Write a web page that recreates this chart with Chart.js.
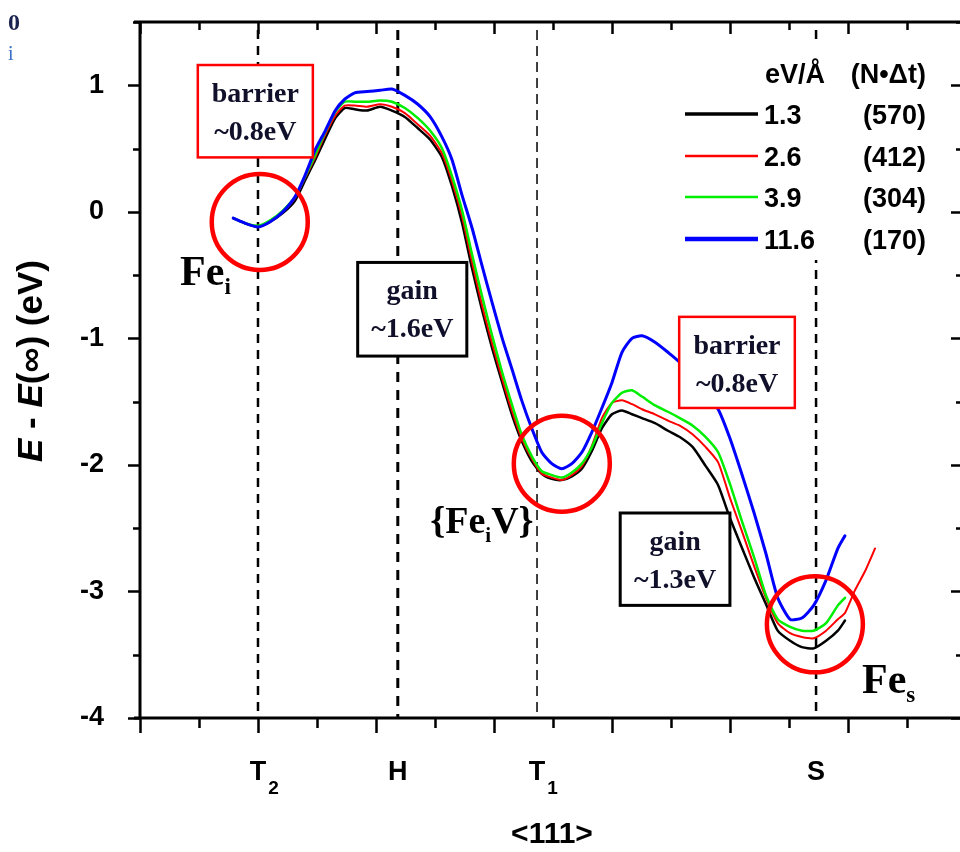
<!DOCTYPE html>
<html>
<head>
<meta charset="utf-8">
<title>Fe along &lt;111&gt;</title>
<style>
    html, body { margin: 0; padding: 0; background: #fff; }
    #wrap { width: 960px; height: 852px; }
</style>
<script src="https://cdn.jsdelivr.net/npm/chart.js@4"></script>
</head>
<body>
<div id="wrap"><canvas id="energyChart" width="960" height="852"></canvas></div>
<script>
// position along <111>, one unit per minor tick
const pathPos = [1.58, 1.78, 2.00, 2.20, 2.42, 2.63, 2.80, 2.97, 3.14, 3.31,
    3.47, 3.64, 3.85, 4.07, 4.27, 4.49, 4.71, 4.92, 5.12, 5.29,
    5.46, 5.63, 5.80, 5.97, 6.14, 6.31, 6.47, 6.64, 6.81, 6.98,
    7.15, 7.32, 7.49, 7.66, 7.83, 8.00, 8.17, 8.34, 8.51, 8.73,
    8.95, 9.15, 9.37, 9.59, 9.80, 10.00, 10.20, 10.41, 10.61, 10.81,
    11.02, 11.22, 11.42, 11.63, 11.83, 11.95, 12.12, 12.29, 12.46];

// E - E(inf) in eV for each field strength
const energy13 = [-0.05, -0.09, -0.12, -0.08, -0.01, 0.09, 0.25, 0.41, 0.58, 0.74,
    0.82, 0.81, 0.80, 0.83, 0.80, 0.75, 0.66, 0.57, 0.43, 0.20,
    -0.09, -0.45, -0.78, -1.08, -1.35, -1.61, -1.81, -1.97, -2.07, -2.11,
    -2.12, -2.09, -2.03, -1.89, -1.71, -1.60, -1.57, -1.60, -1.63, -1.67,
    -1.73, -1.78, -1.86, -2.01, -2.16, -2.42, -2.65, -2.89, -3.10, -3.31,
    -3.39, -3.44, -3.45, -3.39, -3.31, -3.23];
const energy26 = [-0.05, -0.09, -0.12, -0.08, 0.00, 0.11, 0.27, 0.43, 0.61, 0.76,
    0.84, 0.84, 0.83, 0.85, 0.83, 0.78, 0.69, 0.60, 0.46, 0.24,
    -0.04, -0.40, -0.74, -1.04, -1.32, -1.58, -1.79, -1.95, -2.07, -2.10,
    -2.12, -2.08, -2.01, -1.85, -1.63, -1.51, -1.49, -1.52, -1.56, -1.60,
    -1.65, -1.69, -1.76, -1.86, -1.98, -2.26, -2.52, -2.80, -3.05, -3.25,
    -3.33, -3.36, -3.37, -3.31, -3.22, -3.17, -2.99, -2.84, -2.66];
const energy39 = [-0.05, -0.09, -0.11, -0.07, 0.01, 0.12, 0.28, 0.45, 0.63, 0.79,
    0.87, 0.87, 0.87, 0.88, 0.87, 0.82, 0.74, 0.64, 0.50, 0.28,
    0.01, -0.34, -0.67, -0.98, -1.27, -1.53, -1.76, -1.93, -2.05, -2.08,
    -2.10, -2.06, -1.99, -1.86, -1.67, -1.51, -1.43, -1.41, -1.46, -1.53,
    -1.58, -1.63, -1.69, -1.78, -1.90, -2.15, -2.44, -2.73, -3.03, -3.22,
    -3.28, -3.31, -3.31, -3.25, -3.11, -3.05];
const energy116 = [-0.05, -0.09, -0.12, -0.08, 0.00, 0.12, 0.29, 0.49, 0.64, 0.80,
    0.89, 0.94, 0.95, 0.96, 0.97, 0.92, 0.85, 0.75, 0.59, 0.41,
    0.13, -0.13, -0.43, -0.72, -1.00, -1.25, -1.49, -1.71, -1.90, -1.99,
    -2.03, -1.99, -1.90, -1.74, -1.55, -1.35, -1.11, -1.00, -0.98, -1.03,
    -1.11, -1.19, -1.32, -1.45, -1.56, -1.79, -2.07, -2.38, -2.70, -3.05,
    -3.22, -3.21, -3.11, -2.91, -2.66, -2.56];

const fieldLabels = ['1.3', '2.6', '3.9', '11.6'];
const stepLabels = ['(570)', '(412)', '(304)', '(170)'];
const seriesColors = ['#000000', '#ff0000', '#00ee00', '#0000ff'];
const seriesWidths = [2.5, 2, 2.5, 3];

// lattice sites marked on the <111> axis
const sitePos = [2.0, 4.37, 6.73, 11.46];
const siteNames = ['T', 'H', 'T', 'S'];
const siteSubs = ['2', '', '1', ''];

const serif = '"Liberation Serif", "Times New Roman", serif';
const sans = '"Liberation Sans", Arial, sans-serif';

const seriesValues = [energy13, energy26, energy39, energy116];
const datasets = seriesValues.map((vals, i) => ({
    label: fieldLabels[i],
    data: vals.map((v, k) => ({ x: pathPos[k], y: v })),
    borderColor: seriesColors[i],
    borderWidth: seriesWidths[i],
    order: 3 - i,
    pointRadius: 0,
    fill: false
}));

// text with a lowered subscript, returns the width drawn
function subText(ctx, x, y, main, sub, size) {
    const big = 'bold ' + size + 'px ' + serif;
    const small = 'bold ' + Math.round(size * 0.55) + 'px ' + serif;
    ctx.textAlign = 'left';
    ctx.font = big;
    const w1 = ctx.measureText(main).width;
    ctx.fillText(main, x, y);
    ctx.font = small;
    ctx.fillText(sub, x + w1, y + size * 0.22);
    return w1 + ctx.measureText(sub).width;
}

const decor = {
    id: 'decor',
    beforeDatasetsDraw(chart) {
        const { ctx, chartArea: a, scales: { x } } = chart;
        // dashed site markers
        const widths = [2.5, 3, 1.5, 2.5];
        const dashes = [[9, 7], [10, 8], [10, 6], [9, 7]];
        ctx.save();
        ctx.strokeStyle = '#000';
        sitePos.forEach((p, i) => {
            const px = x.getPixelForValue(p);
            ctx.lineWidth = widths[i];
            ctx.setLineDash(dashes[i]);
            ctx.beginPath();
            ctx.moveTo(px, a.top + 8);
            ctx.lineTo(px, a.bottom);
            ctx.stroke();
        });
        ctx.restore();
    },
    afterDatasetsDraw(chart) {
        const { ctx, chartArea: a, scales: { x, y } } = chart;
        ctx.save();

        // frame and ticks
        ctx.strokeStyle = '#000';
        ctx.lineWidth = 3;
        ctx.beginPath();
        ctx.moveTo(a.left, a.top - 1);
        ctx.lineTo(a.left, a.bottom + 1);
        ctx.moveTo(a.left - 6, a.bottom);
        ctx.lineTo(a.right, a.bottom);
        ctx.moveTo(a.left - 6, a.top);
        ctx.lineTo(a.right, a.top);
        ctx.stroke();
        ctx.lineWidth = 2.5;
        ctx.beginPath();
        for (let v = 0; v <= x.max; v++) {
            const px = Math.round(x.getPixelForValue(v)) + 0.5;
            const major = v % 2 === 0;
            ctx.moveTo(px, a.bottom);
            ctx.lineTo(px, a.bottom + (major ? 15 : 10));
            ctx.moveTo(px, a.top);
            ctx.lineTo(px, a.top + (major ? 12 : 8));
        }
        for (let v = y.min; v <= y.max; v += 0.5) {
            const py = Math.round(y.getPixelForValue(v)) + 0.5;
            const major = Number.isInteger(v);
            ctx.moveTo(a.left, py);
            ctx.lineTo(a.left - (major ? 12 : 7), py);
            ctx.moveTo(a.right, py);
            ctx.lineTo(a.right - (major ? 9 : 4), py);
        }
        ctx.stroke();

        // annotation boxes
        const boxes = [
            { x0: 0.98, x1: 2.93, y0: 1.16, y1: 0.43, c: '#ff0000', lw: 2.5, t: ['barrier', '~0.8eV'] },
            { x0: 3.69, x1: 5.54, y0: -0.40, y1: -1.14, c: '#000000', lw: 3, t: ['gain', '~1.6eV'] },
            { x0: 9.14, x1: 11.10, y0: -0.83, y1: -1.55, c: '#ff0000', lw: 2.5, t: ['barrier', '~0.8eV'] },
            { x0: 8.14, x1: 10.00, y0: -2.38, y1: -3.11, c: '#000000', lw: 3, t: ['gain', '~1.3eV'] }
        ];
        boxes.forEach(b => {
            const l = x.getPixelForValue(b.x0), r = x.getPixelForValue(b.x1);
            const t = y.getPixelForValue(b.y0), btm = y.getPixelForValue(b.y1);
            ctx.fillStyle = '#fff';
            ctx.fillRect(l, t, r - l, btm - t);
            ctx.strokeStyle = b.c;
            ctx.lineWidth = b.lw;
            ctx.strokeRect(l, t, r - l, btm - t);
            ctx.fillStyle = '#10102a';
            ctx.font = 'bold 28px ' + serif;
            ctx.textAlign = 'center';
            ctx.textBaseline = 'alphabetic';
            ctx.fillText(b.t[0], (l + r) / 2, t + 37);
            ctx.fillText(b.t[1], (l + r) / 2, t + 75);
        });

        // circled minima
        ctx.strokeStyle = '#ff0000';
        ctx.lineWidth = 4.5;
        [[2.03, -0.08], [7.15, -1.99], [11.44, -3.26]].forEach(([cx, cy]) => {
            ctx.beginPath();
            ctx.arc(x.getPixelForValue(cx), y.getPixelForValue(cy), 48, 0, Math.PI * 2);
            ctx.stroke();
        });

        // state labels
        ctx.fillStyle = '#000';
        ctx.textBaseline = 'alphabetic';
        subText(ctx, x.getPixelForValue(0.68), y.getPixelForValue(-0.58), 'Fe', 'i', 42);
        const px = x.getPixelForValue(4.92), py = y.getPixelForValue(-2.54);
        const w = subText(ctx, px, py, '{Fe', 'i', 38);
        ctx.font = 'bold 38px ' + serif;
        ctx.fillText('V}', px + w, py);
        subText(ctx, x.getPixelForValue(12.24), y.getPixelForValue(-3.80), 'Fe', 's', 42);

        // legend
        ctx.fillStyle = '#fff';
        ctx.fillRect(676, 42, 270, 218);
        ctx.fillStyle = '#000';
        ctx.font = 'bold 27px ' + sans;
        ctx.textAlign = 'right';
        ctx.fillText('eV/\u00c5', 825, 83);
        ctx.fillText('(N\u2022\u0394t)', 926, 83);
        const rowY = [114, 156, 197, 239];
        const legendWidths = [3.5, 2.5, 2.5, 4.5];
        fieldLabels.forEach((lab, i) => {
            ctx.strokeStyle = seriesColors[i];
            ctx.lineWidth = legendWidths[i];
            ctx.beginPath();
            ctx.moveTo(685, rowY[i]);
            ctx.lineTo(758, rowY[i]);
            ctx.stroke();
            ctx.textAlign = 'left';
            ctx.fillText(lab, 764, rowY[i] + 10);
            ctx.textAlign = 'right';
            ctx.fillText(stepLabels[i], 926, rowY[i] + 10);
        });

        // site names under the axis
        sitePos.forEach((p, i) => {
            const sx = x.getPixelForValue(p);
            ctx.font = 'bold 27px ' + sans;
            const wm = ctx.measureText(siteNames[i]).width;
            ctx.textAlign = 'left';
            ctx.fillText(siteNames[i], sx - wm / 2, 780);
            if (siteSubs[i]) {
                ctx.font = 'bold 19px ' + sans;
                ctx.fillText(siteSubs[i], sx + wm / 2 + 2, 794);
            }
        });
        ctx.font = 'bold 30px ' + sans;
        ctx.textAlign = 'center';
        ctx.fillText('<111>', 552, 843);

        // y axis title
        ctx.translate(30, 361);
        ctx.rotate(-Math.PI / 2);
        const parts = [['E', true], [' - ', false], ['E', true], ['(\u221e) (eV)', false]];
        const fontOf = it => (it ? 'italic ' : '') + 'bold 35px ' + sans;
        let total = 0;
        parts.forEach(([s, it]) => { ctx.font = fontOf(it); total += ctx.measureText(s).width; });
        let cx = -total / 2;
        ctx.textAlign = 'left';
        parts.forEach(([s, it]) => {
            ctx.font = fontOf(it);
            ctx.fillText(s, cx, 12);
            cx += ctx.measureText(s).width;
        });
        ctx.restore();

        // stray glyphs at the page corner
        ctx.save();
        ctx.fillStyle = '#1a2350';
        ctx.font = 'bold 24px ' + serif;
        ctx.fillText('0', 8, 30);
        ctx.fillStyle = '#3a6fc8';
        ctx.font = '20px ' + serif;
        ctx.fillText('i', 8, 60);
        ctx.restore();
    }
};

new Chart(document.getElementById('energyChart'), {
    type: 'line',
    data: { datasets: datasets },
    options: {
        responsive: false,
        animation: false,
        events: [],
        layout: { padding: { top: 22, right: 0, bottom: 0, left: 0 } },
        plugins: { legend: { display: false }, tooltip: { enabled: false } },
        elements: { line: { tension: 0.2, borderCapStyle: 'round', borderJoinStyle: 'round' } },
        scales: {
            x: {
                type: 'linear', min: 0, max: 13.9,
                grid: { display: false }, border: { display: false },
                ticks: { display: false },
                afterFit: s => { s.height = 134; s.paddingLeft = 0; s.paddingRight = 0; }
            },
            y: {
                min: -4, max: 1.5,
                grid: { display: false }, border: { display: false },
                ticks: {
                    stepSize: 1, padding: 28, color: '#000',
                    font: { family: 'Liberation Sans', size: 27, weight: 'bold' },
                    callback: v => Number.isInteger(v) ? String(v) : ''
                },
                afterFit: s => { s.width = 140; s.paddingTop = 0; s.paddingBottom = 0; }
            }
        }
    },
    plugins: [decor]
});
</script>
</body>
</html>
